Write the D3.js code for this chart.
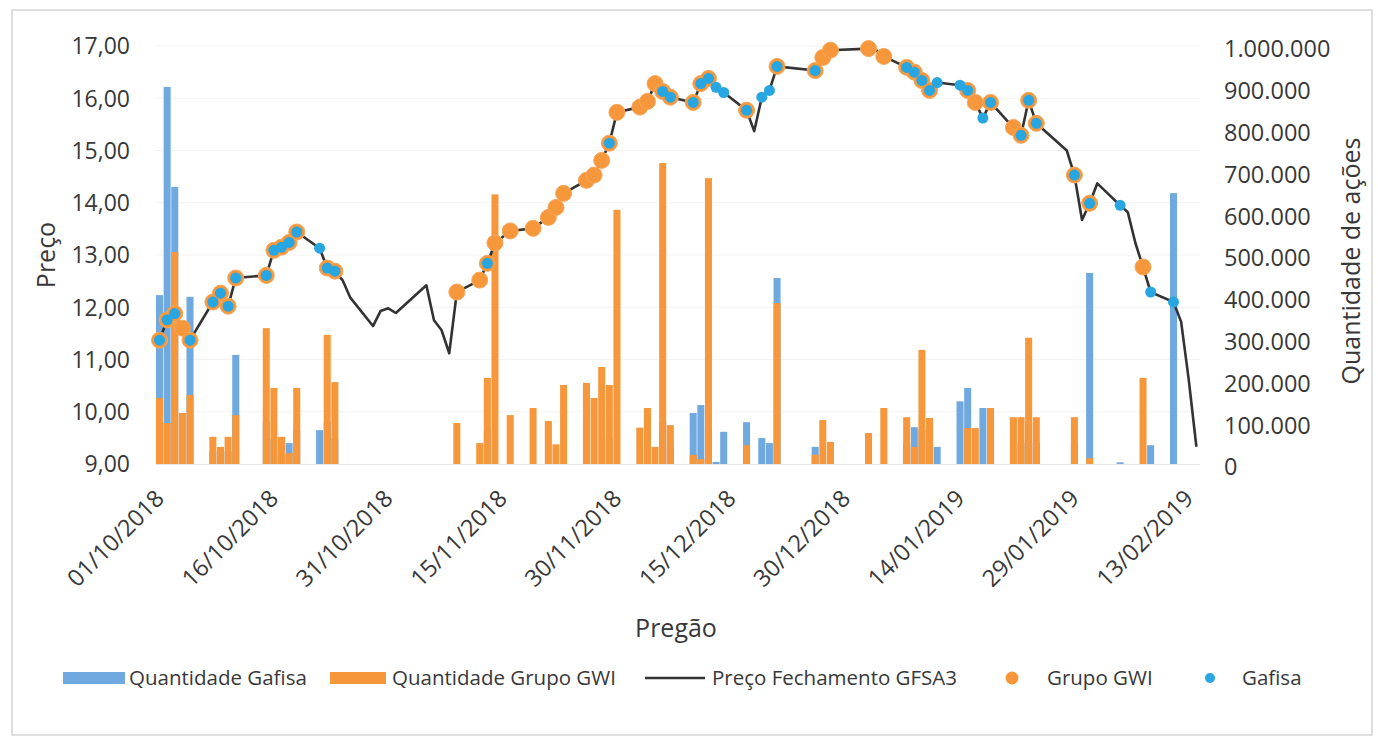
<!DOCTYPE html>
<html>
<head>
<meta charset="utf-8">
<script src="https://cdn.jsdelivr.net/npm/d3@7"></script>
<style>
  body { margin: 0; background: #fff; }
  svg { display: block; font-family: "Open Sans", sans-serif; }
</style>
</head>
<body>
<div id="container"></div>
<script>
// pregões (dd/mm/aaaa)
var dates = ["01/10/2018","02/10/2018","03/10/2018","04/10/2018","05/10/2018",
  "08/10/2018","09/10/2018","10/10/2018","11/10/2018",
  "15/10/2018","16/10/2018","17/10/2018","18/10/2018","19/10/2018",
  "22/10/2018","23/10/2018","24/10/2018","25/10/2018","26/10/2018",
  "29/10/2018","30/10/2018","31/10/2018","01/11/2018",
  "05/11/2018","06/11/2018","07/11/2018","08/11/2018","09/11/2018",
  "12/11/2018","13/11/2018","14/11/2018","16/11/2018",
  "19/11/2018","21/11/2018","22/11/2018","23/11/2018",
  "26/11/2018","27/11/2018","28/11/2018","29/11/2018","30/11/2018",
  "03/12/2018","04/12/2018","05/12/2018","06/12/2018","07/12/2018",
  "10/12/2018","11/12/2018","12/12/2018","13/12/2018","14/12/2018",
  "17/12/2018","18/12/2018","19/12/2018","20/12/2018","21/12/2018",
  "26/12/2018","27/12/2018","28/12/2018",
  "02/01/2019","03/01/2019","04/01/2019",
  "07/01/2019","08/01/2019","09/01/2019","10/01/2019","11/01/2019",
  "14/01/2019","15/01/2019","16/01/2019","17/01/2019","18/01/2019",
  "21/01/2019","22/01/2019","23/01/2019","24/01/2019",
  "28/01/2019","29/01/2019","30/01/2019","31/01/2019","01/02/2019",
  "04/02/2019","05/02/2019","06/02/2019","07/02/2019","08/02/2019",
  "11/02/2019","12/02/2019","13/02/2019","14/02/2019"];

var precoFechamento = [11.37,11.76,11.88,11.60,11.37,
  12.10,12.27,12.02,12.56,
  12.61,13.09,13.15,13.24,13.44,
  13.13,12.75,12.69,12.52,12.19,
  11.64,11.93,11.98,11.89,
  12.42,11.75,11.56,11.12,12.29,
  12.52,12.84,13.23,13.46,
  13.51,13.72,13.91,14.18,
  14.43,14.53,14.81,15.14,15.73,
  15.83,15.94,16.28,16.13,16.02,
  15.92,16.28,16.38,16.21,16.11,
  15.77,15.37,16.02,16.15,16.61,
  16.53,16.78,16.92,
  16.95,16.92,16.80,
  16.59,16.50,16.34,16.15,16.30,
  16.25,16.15,15.92,15.62,15.92,
  15.44,15.29,15.96,15.52,
  15.00,14.53,13.67,13.99,14.37,
  13.95,13.82,13.23,12.77,12.29,
  12.10,11.72,10.61,9.33];

var qtdGafisa = [404000,902000,663000,0,400000,
  30000,20000,30000,261000,
  100000,60000,55000,50000,80000,
  81000,100000,60000,0,0,
  0,0,0,0,
  0,0,0,0,0,
  0,80000,0,0,
  0,0,0,0,
  0,0,0,60000,0,
  0,0,0,100000,40000,
  122000,141000,80000,5000,77000,
  100000,0,62000,50000,445000,
  41000,0,0,
  0,0,0,
  50000,88000,80000,50000,41000,
  150000,182000,0,134000,60000,
  0,50000,100000,50000,
  0,50000,0,457000,0,
  4000,0,0,0,45000,
  648000,0,0,0];

var qtdGWI = [158000,98000,507000,122000,165000,
  65000,41000,65000,117000,
  325000,182000,65000,26000,182000,
  0,309000,196000,0,0,
  0,0,0,0,
  0,0,0,0,98000,
  50000,206000,645000,117000,
  134000,103000,47000,189000,
  194000,158000,232000,189000,608000,
  87000,134000,41000,720000,93000,
  22000,12000,684000,0,0,
  45000,0,0,0,385000,
  22000,105000,53000,
  74000,0,134000,
  112000,41000,273000,110000,0,
  0,86000,86000,0,134000,
  112000,112000,302000,112000,
  0,112000,0,14000,0,
  0,0,0,206000,0,
  0,0,0,0];

var precoTicks = [9,10,11,12,13,14,15,16,17];
var qtdTicks = [0,100000,200000,300000,400000,500000,600000,700000,800000,900000,1000000];
var dateTicks = ["01/10/2018","16/10/2018","31/10/2018","15/11/2018","30/11/2018",
  "15/12/2018","30/12/2018","14/01/2019","29/01/2019","13/02/2019"];

var legendItems = ["Quantidade Gafisa","Quantidade Grupo GWI","Preço Fechamento GFSA3","Grupo GWI","Gafisa"];

var w = 1378, h = 740;
var corAzulBarra = "#6fa9e0", corLaranja = "#f5973a", corAzulPonto = "#27a6e2", corLinha = "#333333", corTexto = "#383838";

var parse = d3.utcParse("%d/%m/%Y");
var br = d3.formatLocale({decimal: ",", thousands: ".", grouping: [3], currency: ["R$", ""]});

var data = dates.map(function(d, i) {
  return {date: parse(d), preco: precoFechamento[i], gafisa: qtdGafisa[i], gwi: qtdGWI[i]};
});

var halfDay = 12 * 3600 * 1000;
var x = d3.scaleUtc()
  .domain([new Date(parse(dates[0]).getTime() - halfDay), new Date(parse(dates[dates.length - 1]).getTime() + halfDay)])
  .range([155.7, 1200.2]);
var dayW = x(parse("02/10/2018")) - x(parse("01/10/2018"));
var barW = dayW * 0.92;

var yP = d3.scaleLinear().domain([9, 17]).range([464, 46]);
var yQ = d3.scaleLinear().domain([0, 1000000]).range([464, 46]);

var svg = d3.select("#container").append("svg")
  .attr("width", w).attr("height", h);

svg.append("rect").attr("x", 12).attr("y", 10).attr("width", 1360).attr("height", 725)
  .attr("fill", "#fff").attr("stroke", "#d4d4d4").attr("stroke-width", 1.5);

// grade
svg.append("g").selectAll("line").data(precoTicks.slice(1)).enter().append("line")
  .attr("x1", x.range()[0]).attr("x2", x.range()[1])
  .attr("y1", function(d) { return yP(d); }).attr("y2", function(d) { return yP(d); })
  .attr("stroke", "#f2f2f2").attr("stroke-width", 1);

// barras: Gafisa atrás, GWI na frente (sobreposição)
svg.append("g").selectAll("rect").data(data.filter(function(d) { return d.gafisa > 0; })).enter().append("rect")
  .attr("x", function(d) { return x(d.date) - barW / 2; })
  .attr("width", barW)
  .attr("y", function(d) { return yQ(d.gafisa); })
  .attr("height", function(d) { return yQ(0) - yQ(d.gafisa); })
  .attr("fill", corAzulBarra);

svg.append("g").selectAll("rect").data(data.filter(function(d) { return d.gwi > 0; })).enter().append("rect")
  .attr("x", function(d) { return x(d.date) - barW / 2; })
  .attr("width", barW)
  .attr("y", function(d) { return yQ(d.gwi); })
  .attr("height", function(d) { return yQ(0) - yQ(d.gwi); })
  .attr("fill", corLaranja);

// eixo x (linha)
svg.append("line").attr("x1", x.range()[0]).attr("x2", x.range()[1])
  .attr("y1", 464.5).attr("y2", 464.5).attr("stroke", "#e6e6e6");

// linha de preço
var line = d3.line().x(function(d) { return x(d.date); }).y(function(d) { return yP(d.preco); });
svg.append("path").datum(data).attr("d", line)
  .attr("fill", "none").attr("stroke", corLinha).attr("stroke-width", 2.6).attr("stroke-linejoin", "round");

// pontos
svg.append("g").selectAll("circle").data(data.filter(function(d) { return d.gwi > 0; })).enter().append("circle")
  .attr("cx", function(d) { return x(d.date); }).attr("cy", function(d) { return yP(d.preco); })
  .attr("r", 8).attr("fill", corLaranja).attr("stroke", "#f7a65a").attr("stroke-width", 1);

svg.append("g").selectAll("circle").data(data.filter(function(d) { return d.gafisa > 0; })).enter().append("circle")
  .attr("cx", function(d) { return x(d.date); }).attr("cy", function(d) { return yP(d.preco); })
  .attr("r", 5.5).attr("fill", corAzulPonto);

// eixo esquerdo
svg.append("g").selectAll("text").data(precoTicks).enter().append("text")
  .attr("x", 130).attr("y", function(d) { return yP(d); }).attr("dy", "0.36em")
  .attr("text-anchor", "end").attr("font-size", 23).attr("fill", corTexto)
  .text(function(d) { return br.format(",.2f")(d); });

// eixo direito
svg.append("g").selectAll("text").data(qtdTicks).enter().append("text")
  .attr("x", 1224).attr("y", function(d) { return yQ(d) + 3; }).attr("dy", "0.36em")
  .attr("text-anchor", "start").attr("font-size", 23.5).attr("fill", corTexto)
  .text(function(d) { return br.format(",d")(d); });

// rótulos de data
svg.append("g").selectAll("text").data(dateTicks).enter().append("text")
  .attr("transform", function(d) { return "translate(" + (x(parse(d)) + 6) + ",500) rotate(-45)"; })
  .attr("text-anchor", "end").attr("font-size", 23.5).attr("fill", corTexto)
  .text(function(d) { return d; });

// títulos
svg.append("text").attr("transform", "translate(55,255) rotate(-90)")
  .attr("text-anchor", "middle").attr("font-size", 25).attr("fill", corTexto).text("Preço");
svg.append("text").attr("transform", "translate(1360,261) rotate(-90)")
  .attr("text-anchor", "middle").attr("font-size", 25).attr("fill", corTexto).text("Quantidade de ações");
svg.append("text").attr("x", 676).attr("y", 637)
  .attr("text-anchor", "middle").attr("font-size", 25).attr("fill", corTexto).text("Pregão");

// legenda
var lg = svg.append("g").attr("font-size", 20.5).attr("fill", corTexto);
lg.append("rect").attr("x", 63).attr("y", 672).attr("width", 62).attr("height", 12).attr("fill", corAzulBarra);
lg.append("text").attr("x", 129).attr("y", 685).text(legendItems[0]);
lg.append("rect").attr("x", 330).attr("y", 672).attr("width", 56).attr("height", 12).attr("fill", corLaranja);
lg.append("text").attr("x", 392).attr("y", 685).text(legendItems[1]);
lg.append("line").attr("x1", 645).attr("x2", 705).attr("y1", 678).attr("y2", 678)
  .attr("stroke", corLinha).attr("stroke-width", 2.6);
lg.append("text").attr("x", 712).attr("y", 685).text(legendItems[2]);
lg.append("circle").attr("cx", 1012).attr("cy", 678).attr("r", 6.5).attr("fill", corLaranja);
lg.append("text").attr("x", 1047).attr("y", 685).text(legendItems[3]);
lg.append("circle").attr("cx", 1210).attr("cy", 678).attr("r", 5).attr("fill", corAzulPonto);
lg.append("text").attr("x", 1242).attr("y", 685).text(legendItems[4]);
</script>
</body>
</html>
